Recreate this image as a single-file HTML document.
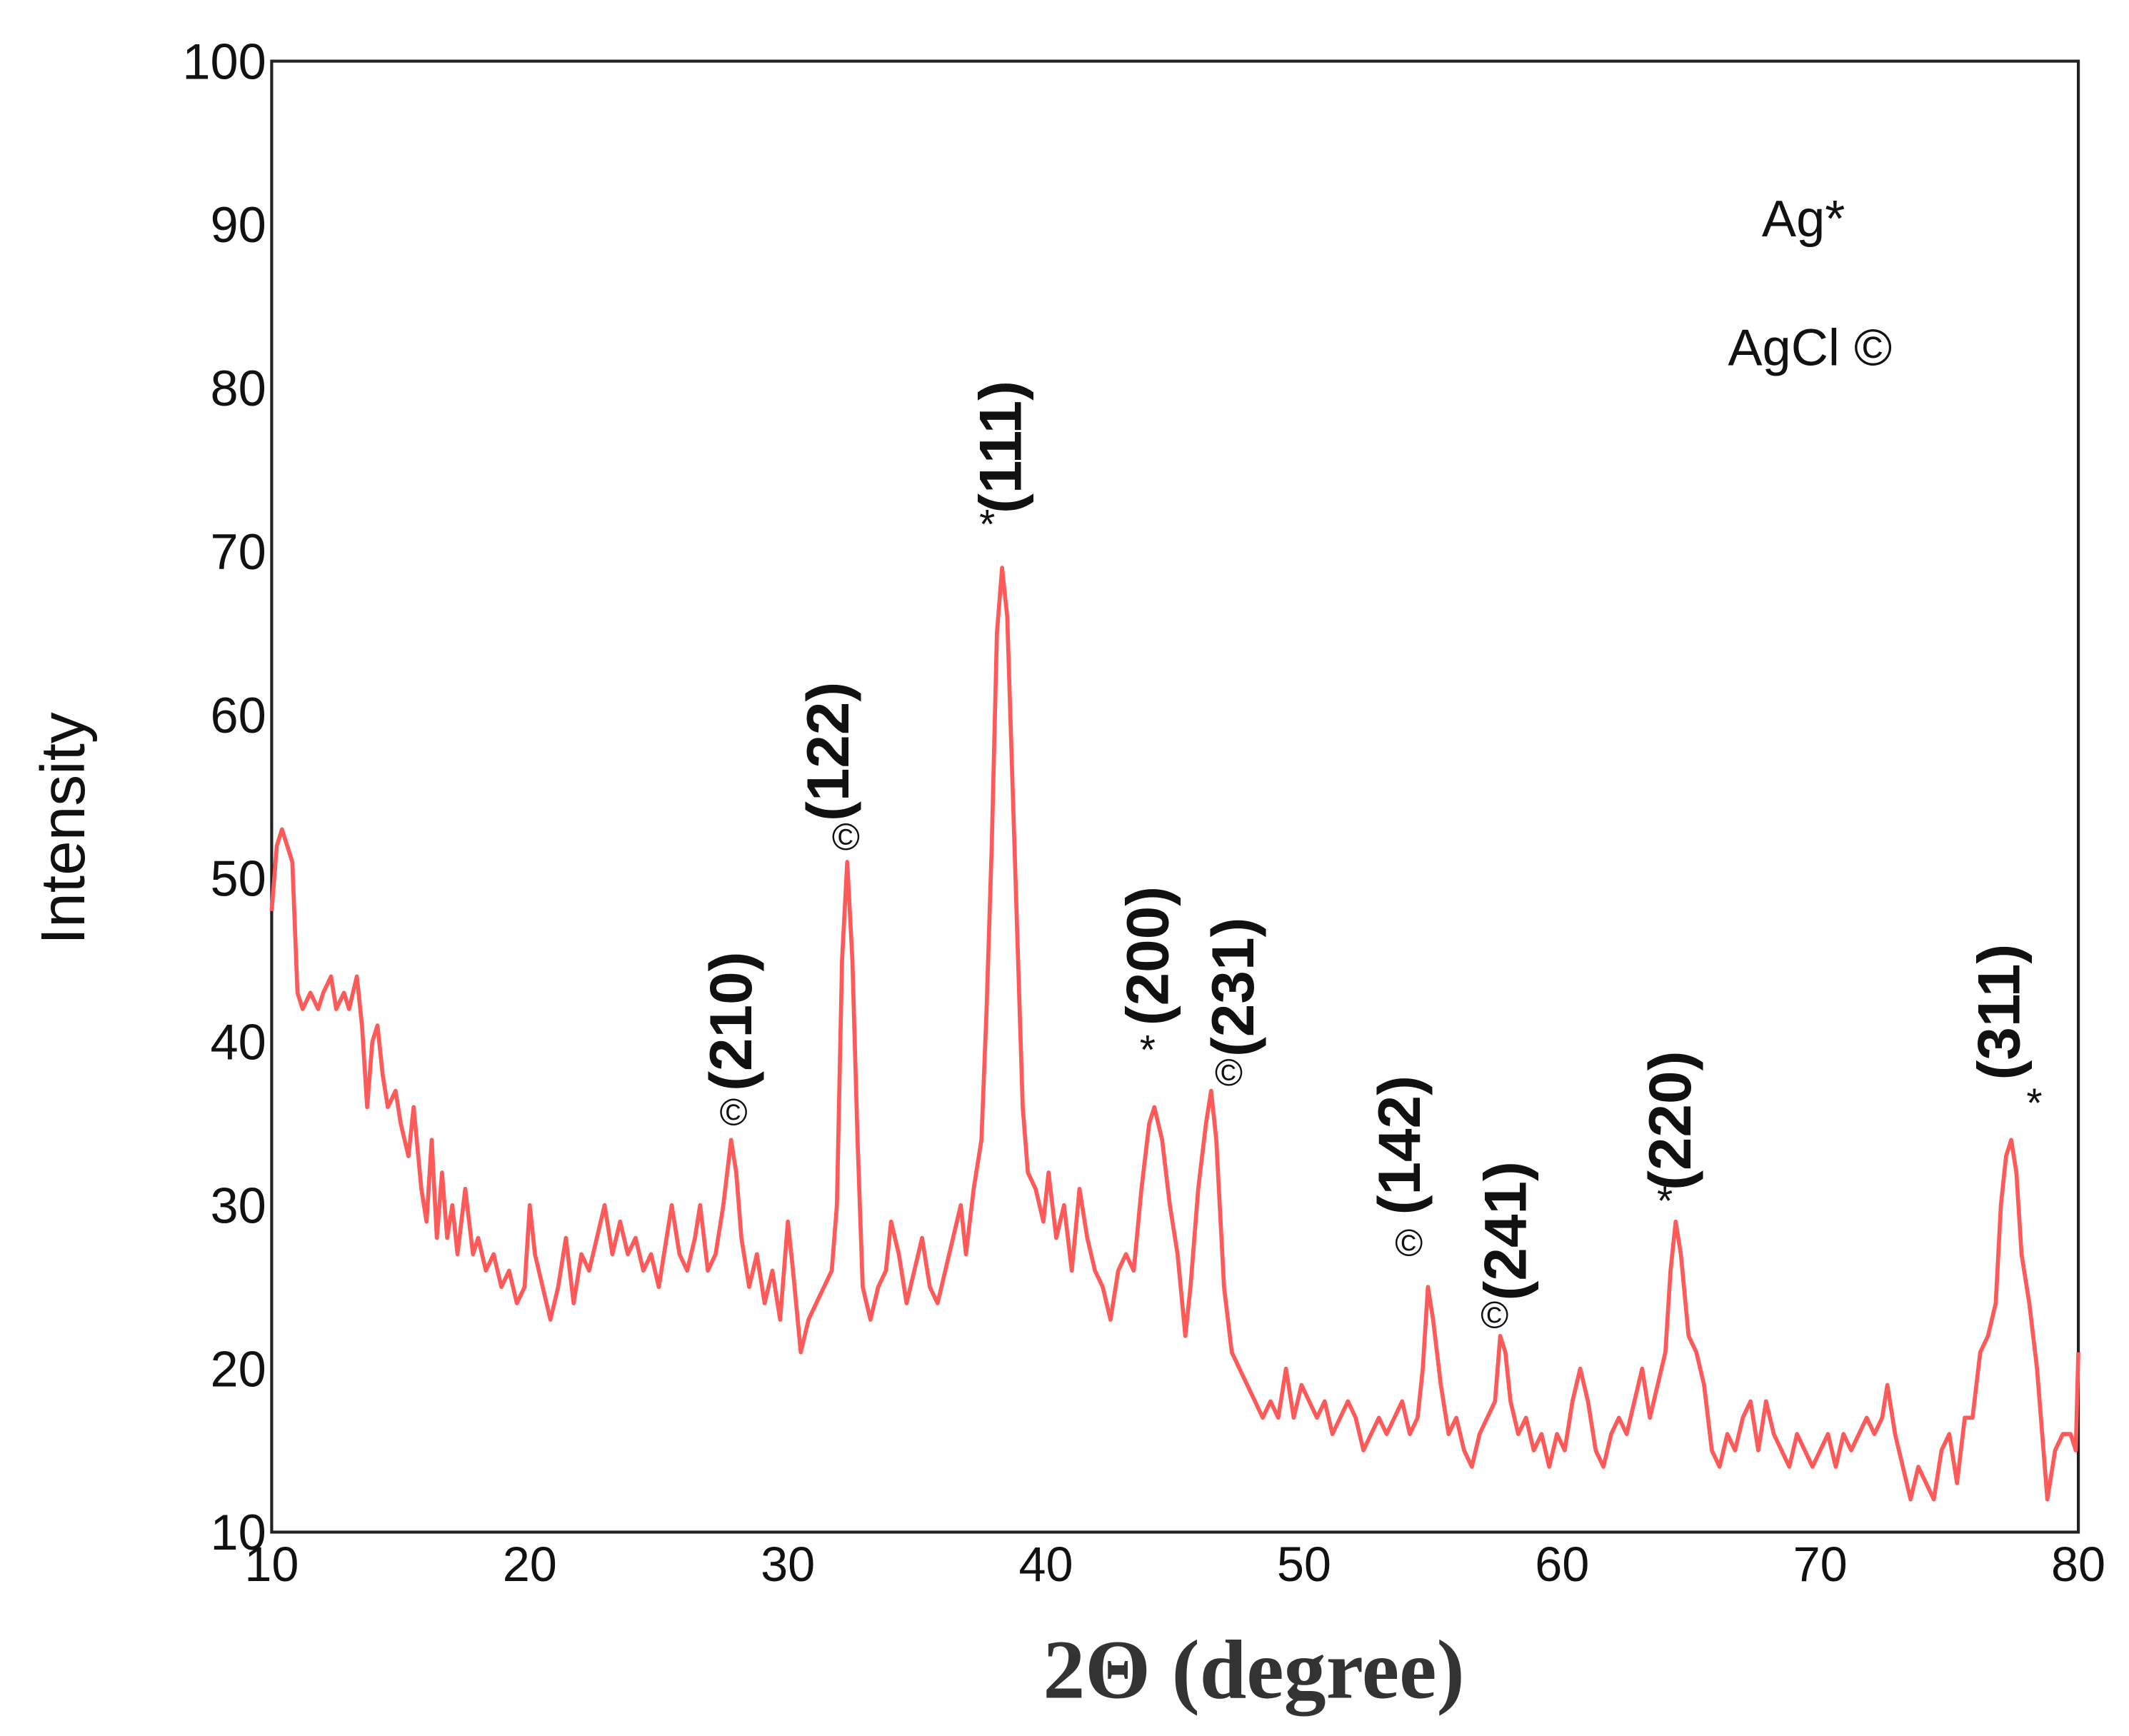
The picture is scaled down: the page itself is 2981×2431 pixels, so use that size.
<!DOCTYPE html>
<html><head><meta charset="utf-8"><style>
html,body{margin:0;padding:0;background:#fff;}
svg{display:block;}
text{font-family:"Liberation Sans",sans-serif;fill:#111;}
</style></head><body>
<svg id="chart" width="2981" height="2431" viewBox="0 0 1567.3 1278.1" xmlns="http://www.w3.org/2000/svg">
<g id="axes"></g>
<g id="series"></g>
<g id="labels"></g>
</svg>
<script>
const xTicks=[10,20,30,40,50,60,70,80];
const yTicks=[10,20,30,40,50,60,70,80,90,100];
const twoTheta=[10.0,10.2,10.4,10.6,10.8,11.0,11.2,11.5,11.8,12.0,12.3,12.5,12.8,13.0,13.3,13.5,13.7,13.9,14.1,14.3,14.5,14.8,15.0,15.3,15.5,15.8,16.0,16.2,16.4,16.6,16.8,17.0,17.2,17.5,17.8,18.0,18.3,18.6,18.9,19.2,19.5,19.8,20.0,20.2,20.5,20.8,21.1,21.4,21.7,22.0,22.3,22.6,22.9,23.2,23.5,23.8,24.1,24.4,24.7,25.0,25.3,25.5,25.8,26.1,26.4,26.6,26.9,27.2,27.5,27.8,28.0,28.2,28.5,28.8,29.1,29.4,29.7,30.0,30.2,30.5,30.8,31.1,31.4,31.7,31.9,32.1,32.3,32.5,32.7,32.9,33.2,33.5,33.8,34.0,34.3,34.6,34.9,35.2,35.5,35.8,36.1,36.4,36.7,36.9,37.2,37.5,37.7,37.9,38.1,38.3,38.5,38.7,38.9,39.1,39.3,39.6,39.9,40.1,40.4,40.7,41.0,41.3,41.6,41.9,42.2,42.5,42.8,43.1,43.4,43.7,44.0,44.2,44.5,44.8,45.1,45.4,45.6,45.9,46.2,46.4,46.6,46.9,47.2,47.5,47.8,48.1,48.4,48.7,49.0,49.3,49.6,49.9,50.2,50.5,50.8,51.1,51.4,51.7,52.0,52.3,52.6,52.9,53.2,53.5,53.8,54.1,54.4,54.6,54.8,55.0,55.3,55.6,55.9,56.2,56.5,56.8,57.1,57.4,57.6,57.8,58.0,58.3,58.6,58.9,59.2,59.5,59.8,60.1,60.4,60.7,61.0,61.3,61.6,61.9,62.2,62.5,62.8,63.1,63.4,63.7,64.0,64.2,64.4,64.6,64.9,65.2,65.5,65.8,66.1,66.4,66.7,67.0,67.3,67.6,67.9,68.2,68.5,68.8,69.1,69.4,69.7,70.0,70.3,70.6,70.9,71.2,71.5,71.8,72.1,72.4,72.6,72.9,73.2,73.5,73.8,74.1,74.4,74.7,75.0,75.3,75.6,75.9,76.2,76.5,76.8,77.0,77.2,77.4,77.6,77.8,78.1,78.4,78.6,78.8,79.1,79.4,79.7,79.9,80.0];
const intensity=[48,52,53,52,51,43,42,43,42,43,44,42,43,42,44,41,36,40,41,38,36,37,35,33,36,31,29,34,28,32,28,30,27,31,27,28,26,27,25,26,24,25,30,27,25,23,25,28,24,27,26,28,30,27,29,27,28,26,27,25,28,30,27,26,28,30,26,27,30,34,32,28,25,27,24,26,23,29,26,21,23,24,25,26,30,45,51,45,34,25,23,25,26,29,27,24,26,28,25,24,26,28,30,27,31,34,42,52,65,69,66,56,46,36,32,31,29,32,28,30,26,31,28,26,25,23,26,27,26,31,35,36,34,30,27,22,25,31,35,37,34,25,21,20,19,18,17,18,17,20,17,19,18,17,18,16,17,18,17,15,16,17,16,17,18,16,17,20,25,23,19,16,17,15,14,16,17,18,22,21,18,16,17,15,16,14,16,15,18,20,18,15,14,16,17,16,18,20,17,19,21,26,29,27,22,21,19,15,14,16,15,17,18,15,18,16,15,14,16,15,14,15,16,14,16,15,16,17,16,17,19,16,14,12,14,13,12,15,16,13,17,17,21,22,24,30,33,34,32,27,24,20,16,12,15,16,16,15,21];
const peakLabels=["(210)","(122)","(111)","(200)","(231)","(142)","(241)","(220)","(311)"];
const peakPos=[28.0,32.3,38.3,44.2,46.4,54.8,57.7,64.4,77.4];
const peakMarks=["©","©","*","*","©","©","©","*","*"];
// label layout offsets (pixels): horizontal shift, and gap above peak
const labelDx=[-5,-15,-2,-6,15,-22,1,-5,-10];
const markDx=[-2,-1,-11,-5,13,-14,-6,-8,17];
const labelGap=[52,22,32,52,17,45,30,15,36];
const markGap=[35,9,22,32,4,23,18,5,17];

const L=200,R=1530,T=45,B=1128;
const xs=v=>L+(v-10)/70*(R-L);
const ys=v=>B-(v-10)/90*(B-T);
const NS="http://www.w3.org/2000/svg";
function mk(tag,parent){const e=document.createElementNS(NS,tag);parent.appendChild(e);return e;}
const ax=document.getElementById('axes'), se=document.getElementById('series'), lb=document.getElementById('labels');

const fr=mk('rect',ax);


fr.setAttribute('x',L);fr.setAttribute('y',T);fr.setAttribute('width',R-L);fr.setAttribute('height',B-T);
fr.setAttribute('fill','none');fr.setAttribute('stroke','#222');fr.setAttribute('stroke-width','2.2');

xTicks.forEach(v=>{
  const t=mk('text',ax);
  
  
  t.setAttribute('x',xs(v));t.setAttribute('y',B+36);t.setAttribute('text-anchor','middle');t.setAttribute('font-size','36');
  t.textContent=v;
});
yTicks.forEach(v=>{
  const t=mk('text',ax);
  
  
  t.setAttribute('x',L-4);t.setAttribute('y',ys(v)+13);t.setAttribute('text-anchor','end');t.setAttribute('font-size','37');
  t.textContent=v;
});
const yt=mk('text',ax);


yt.setAttribute('transform','translate(62,610) rotate(-90)');yt.setAttribute('text-anchor','middle');yt.setAttribute('font-size','46');
yt.textContent='Intensity';
const xt=mk('text',ax);


xt.setAttribute('x',923);xt.setAttribute('y',1250);xt.setAttribute('text-anchor','middle');xt.setAttribute('font-size','62');
xt.setAttribute('font-weight','bold');xt.setAttribute('style','font-family:"Liberation Serif",serif;fill:#333');
xt.textContent='2Θ (degree)';

let d='';
twoTheta.forEach((v,i)=>{d+=(i?'L':'M')+xs(v).toFixed(1)+','+ys(intensity[i]).toFixed(1);});
const p=mk('path',se);


p.setAttribute('d',d);p.setAttribute('fill','none');p.setAttribute('stroke','#ff5a5a');p.setAttribute('stroke-width','3');p.setAttribute('stroke-linejoin','round');

peakLabels.forEach((s,i)=>{
  const x=xs(peakPos[i]);
  let k=twoTheta.findIndex(v=>v>=peakPos[i]);
  const yp=ys(intensity[k]);
  const m=mk('text',lb);
  
  
  m.setAttribute('x',x+markDx[i]);m.setAttribute('y',yp-markGap[i]);m.setAttribute('text-anchor','middle');m.setAttribute('font-size',peakMarks[i]=='*'?'30':'28');
  m.textContent=peakMarks[i];
  const t=mk('text',lb);
  
  
  t.setAttribute('transform','translate('+(x+labelDx[i]+16)+','+(yp-labelGap[i]-8)+') rotate(-90)');
  t.setAttribute('font-size','44');t.setAttribute('font-weight','bold');
  t.textContent=s;
});

const g1=mk('text',lb);


g1.setAttribute('x',1297);g1.setAttribute('y',174);g1.setAttribute('font-size','38');
g1.textContent='Ag*';
const g2=mk('text',lb);


g2.setAttribute('x',1272);g2.setAttribute('y',269);g2.setAttribute('font-size','38');
g2.textContent='AgCl ©';
</script>
</body></html>
